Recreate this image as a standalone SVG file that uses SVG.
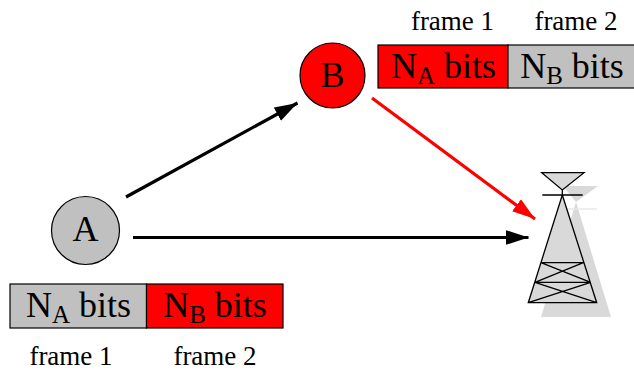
<svg xmlns="http://www.w3.org/2000/svg" width="634" height="371" viewBox="0 0 634 371">
<style>
text{font-family:"Liberation Serif","Times New Roman",serif;fill:#000;text-anchor:middle}
.lbl{font-size:27px}
.big{font-size:36px}
.sub{font-size:25px}
.box{stroke:#000;stroke-width:1.2}
.tw{stroke:#000;stroke-width:1.3;fill:none}
.conn{stroke-width:3.2;fill:none}
</style>
<defs>
<marker id="ab" markerUnits="userSpaceOnUse" markerWidth="24" markerHeight="16" refX="23" refY="8" orient="auto"><path d="M0 0.500L23 8L0 15.500z" fill="#000"/></marker>
<marker id="ar" markerUnits="userSpaceOnUse" markerWidth="24" markerHeight="16" refX="23" refY="8" orient="auto"><path d="M0 0.500L23 8L0 15.500z" fill="#f00"/></marker>
</defs>
<g id="connectors">
<path class="conn" stroke="#000" d="M126 197L297.500 103" marker-end="url(#ab)"/>
<path class="conn" stroke="#000" d="M133 237.500L528.500 237.500" marker-end="url(#ab)"/>
<path class="conn" stroke="#f00" d="M372 98L535 219" marker-end="url(#ar)"/>
</g>
<g id="node-a">
<circle cx="85.500" cy="230.500" r="34" fill="#c0c0c0" stroke="#000" stroke-width="1.200"/>
<text x="85.500" y="241" class="big">A</text>
</g>
<g id="node-b">
<circle cx="332.500" cy="75.500" r="32.500" fill="#f00" stroke="#000" stroke-width="1.200"/>
<text x="332.500" y="87" class="big">B</text>
</g>
<g id="frames-a">
<rect class="box" x="10" y="284" width="136.500" height="44" fill="#c0c0c0"/>
<rect class="box" x="146.500" y="284" width="136.500" height="44" fill="#f00"/>
<text x="78.500" y="316.500" class="big">N<tspan class="sub" dy="6">A</tspan><tspan dy="-6"> bits</tspan></text>
<text x="215" y="316.500" class="big">N<tspan class="sub" dy="6">B</tspan><tspan dy="-6"> bits</tspan></text>
<text x="71" y="365" class="lbl">frame 1</text>
<text x="215" y="365" class="lbl">frame 2</text>
</g>
<g id="frames-b">
<rect class="box" x="378" y="45" width="130" height="43" fill="#f00"/>
<rect class="box" x="508" y="45" width="130" height="43" fill="#c0c0c0"/>
<text x="443.500" y="77.500" class="big">N<tspan class="sub" dy="6">A</tspan><tspan dy="-6"> bits</tspan></text>
<text x="572" y="77.500" class="big">N<tspan class="sub" dy="6">B</tspan><tspan dy="-6"> bits</tspan></text>
<text x="452.500" y="30" class="lbl">frame 1</text>
<text x="576" y="30" class="lbl">frame 2</text>
</g>
<g id="tower">
<g fill="#d9d9d9">
<path d="M563 186L598 186L576 202z"/>
<path d="M576 202L541 317L611 317z"/>
</g>
<path d="M566 209L597 209" stroke="#e8e8e8" stroke-width="1.500"/>
<path d="M562.300 195L528.300 302.700L596.700 302.700z" fill="#d9d9d9"/>
<path d="M541.700 172.700L584 172.700L562.300 190z" fill="#d9d9d9"/>
<path class="tw" d="M541.700 172.700L584 172.700L562.300 190zM562.300 190V195M542.300 195H582.700M562.300 195L528.300 302.700H596.700zM541 262.700H583.300M535 282.300H590.700M541 262.700L590.700 282.300M583.300 262.700L535 282.300M535 282.300L596.700 302.700M590.700 282.300L528.300 302.700"/>
</g>
</svg>
